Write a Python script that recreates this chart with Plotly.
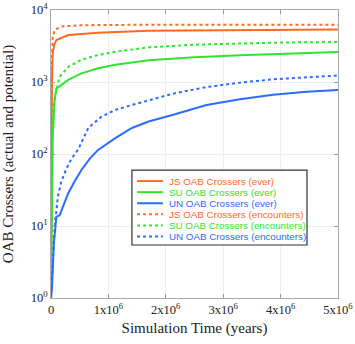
import plotly.graph_objects as go

# ── data (time in years, counts) ─────────────────────────────────────────
js_ever_t = [0, 5e3, 1.5e4, 3e4, 6e4, 9.4e4, 3e5, 8.2e5, 1.7e6, 3e6, 4e6, 5e6]
js_ever_n = [1, 60, 900, 2500, 3400, 3830, 4500, 4840, 5150, 5250, 5300, 5350]

su_ever_t = [0, 1e4, 3e4, 6e4, 9.4e4, 3e5, 5.3e5, 8.2e5, 1.12e6, 1.7e6,
             2.5e6, 3.3e6, 4e6, 5e6]
su_ever_n = [1, 10, 150, 550, 810, 1070, 1320, 1550, 1740, 2000,
             2200, 2350, 2470, 2600]

un_ever_t = [0, 2e4, 3.5e4, 5e4, 9.4e4, 1.5e5, 2.1e5, 3e5, 4.1e5, 5.3e5, 6.8e5,
             8.2e5, 1.12e6, 1.41e6, 1.7e6, 2.13e6, 2.71e6, 3.29e6, 3.87e6,
             4.45e6, 5e6]
un_ever_n = [1, 1.5, 3, 5.8, 13.5, 14, 18.7, 28.5, 41.5, 60, 87,
             114, 166, 230, 283, 350, 480, 575, 665, 735, 775]

js_enc_t = [0, 4e3, 1.2e4, 3e4, 6.4e4, 1.8e5, 5.3e5, 1.7e6, 3e6, 4e6, 5e6]
js_enc_n = [1, 100, 1500, 4200, 5300, 5900, 6150, 6250, 6250, 6250, 6250]

su_enc_t = [0, 1e4, 2e4, 3.5e4, 9.4e4, 1.5e5, 3e5, 5.3e5, 8.2e5, 1.12e6,
            1.7e6, 2.5e6, 3.3e6, 4e6, 5e6]
su_enc_n = [1, 20, 120, 410, 775, 1180, 1620, 2040, 2370, 2630,
            3030, 3300, 3450, 3530, 3600]

un_enc_t = [0, 2e4, 4e4, 6.4e4, 1.2e5, 1.8e5, 2.7e5, 3.6e5, 4.7e5, 6.5e5,
            8.8e5, 1.12e6, 1.41e6, 1.7e6, 2.13e6, 2.71e6, 3.29e6, 3.87e6,
            4.45e6, 5e6]
un_enc_n = [1, 2, 4.5, 9.8, 25.6, 41.5, 63, 87, 114, 230,
            330, 410, 480, 560, 690, 850, 980, 1090, 1170, 1230]

x_ticks = [0, 1e6, 2e6, 3e6, 4e6, 5e6]
x_labels = ["0"] + [f"{k}x10<sup>6</sup>" for k in range(1, 6)]
y_ticks = [1, 10, 100, 1000, 10000]
y_labels = [f"10<sup>{k}</sup>" for k in range(5)]

ORANGE = "#FF6A1E"
GREEN = "#2FE62F"
BLUE = "#2B6CFF"

series = [
    ("JS OAB Crossers (ever)", js_ever_t, js_ever_n, ORANGE, "solid"),
    ("SU OAB Crossers (ever)", su_ever_t, su_ever_n, GREEN, "solid"),
    ("UN OAB Crossers (ever)", un_ever_t, un_ever_n, BLUE, "solid"),
    ("JS OAB Crossers (encounters)", js_enc_t, js_enc_n, ORANGE, "dot"),
    ("SU OAB Crossers (encounters)", su_enc_t, su_enc_n, GREEN, "dot"),
    ("UN OAB Crossers (encounters)", un_enc_t, un_enc_n, BLUE, "dot"),
]

fig = go.Figure()
for name, t, n, color, dash in series:
    fig.add_trace(
        go.Scatter(
            x=t, y=n, mode="lines", name=name, showlegend=False,
            line=dict(color=color, width=2, dash=dash),
        )
    )

# ── compact boxed legend (plotly's own legend rows are too tall here) ────
LEG_X0, LEG_X1 = 0.282, 0.892
LEG_Y0, LEG_Y1 = 0.184, 0.444
row_top, row_step = 0.406, 0.0385
shapes = [dict(type="rect", xref="paper", yref="paper",
               x0=LEG_X0, x1=LEG_X1, y0=LEG_Y0, y1=LEG_Y1,
               line=dict(color="#333", width=1.2), fillcolor="white", layer="above")]
annotations = []
for i, (name, _, _, color, dash) in enumerate(series):
    yy = row_top - i * row_step
    shapes.append(dict(type="line", xref="paper", yref="paper",
                       x0=0.300, x1=0.390, y0=yy, y1=yy, layer="above",
                       line=dict(color=color, width=2, dash=dash)))
    annotations.append(dict(xref="paper", yref="paper", x=0.405, y=yy,
                            xanchor="left", yanchor="middle", showarrow=False,
                            text=name, font=dict(family="Liberation Sans, Arial, sans-serif",
                                                 size=9.8, color=color)))

serif = "Liberation Serif, Times New Roman, serif"
tick_font = dict(family=serif, size=12.5, color="#222")
title_font = dict(family=serif, size=15, color="#222")

fig.update_layout(
    width=355, height=344,
    margin=dict(l=51, r=17, t=10, b=46),
    paper_bgcolor="white", plot_bgcolor="white",
    shapes=shapes, annotations=annotations,
)
fig.update_xaxes(
    range=[0, 5e6], tickvals=x_ticks, ticktext=x_labels, automargin=False,
    tickfont=tick_font, ticks="inside", ticklen=4, tickcolor="#999",
    showgrid=True, gridcolor="#EEEEEE", zeroline=False,
    showline=True, linecolor="#AAAAAA", mirror="ticks",
    title=dict(text="Simulation Time (years)", font=title_font, standoff=6),
)
fig.update_yaxes(
    type="log", range=[0, 4], tickvals=y_ticks, ticktext=y_labels, automargin=False,
    tickfont=tick_font, ticks="inside", ticklen=4, tickcolor="#999",
    showgrid=True, gridcolor="#EEEEEE", zeroline=False,
    showline=True, linecolor="#AAAAAA", mirror="ticks",
    title=dict(text="OAB Crossers (actual and potential)", font=title_font),
)

# page body has a default 8px margin that would push the 355x344 figure off-screen
fig.write_html("out.html", config={"displayModeBar": False},
               post_script="document.body.style.margin='0px';")
